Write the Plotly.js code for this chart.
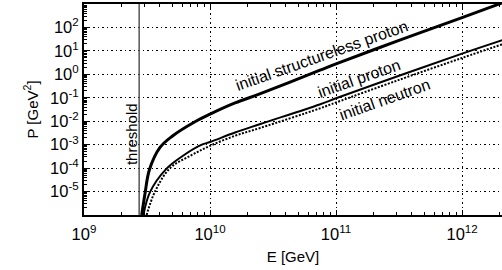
<!DOCTYPE html>
<html>
<head>
<meta charset="utf-8">
<script src="https://cdn.plot.ly/plotly-3.0.1.min.js"></script>
<style>html,body{margin:0;padding:0;overflow:hidden;background:#fff}#chart{width:502px;height:270px}</style>
</head>
<body>
<div id="chart"></div>
<script>
// Energy E [GeV] and P [GeV^2]
const structurelessE = [2.87e9, 3.05e9, 3.30e9, 4.01e9, 5.01e9, 7.60e9, 1.0e10, 1.58e10, 2.51e10, 7.46e10, 1.0e11, 3.16e11, 1.0e12, 2.14e12];
const structurelessP = [1e-6, 8.3e-6, 8.3e-5, 7.6e-4, 2.3e-3, 9.5e-3, 2.0e-2, 6.0e-2, 0.15, 1.5, 2.8, 28, 263, 1175];

const protonE = [2.96e9, 3.34e9, 4.48e9, 6.31e9, 8.61e9, 1.0e10, 1.58e10, 2.51e10, 7.41e10, 1.0e11, 3.16e11, 1.0e12, 2.14e12];
const protonP = [1e-6, 9.5e-6, 9.1e-5, 3.8e-4, 1.0e-3, 1.3e-3, 3.3e-3, 7.6e-3, 5.2e-2, 9.5e-2, 0.87, 7.6, 30];

const neutronE = [3.14e9, 3.66e9, 4.82e9, 7.08e9, 1.0e10, 1.58e10, 2.51e10, 7.41e10, 1.0e11, 3.16e11, 1.0e12, 2.14e12];
const neutronP = [1e-6, 1e-5, 1e-4, 3.5e-4, 8.9e-4, 2.4e-3, 5.2e-3, 3.5e-2, 6.3e-2, 0.58, 5.0, 20];

const thresholdE = 2.74e9;
const thresholdP = [1e-6, 1e3];

const xTickVals = [1e9, 1e10, 1e11, 1e12];
const xTickText = ['10<sup>9</sup>', '10<sup>10</sup>', '10<sup>11</sup>', '10<sup>12</sup>'];
const yTickVals = [1e-5, 1e-4, 1e-3, 1e-2, 1e-1, 1e0, 1e1, 1e2];
const yTickText = ['10<sup>-5</sup>', '10<sup>-4</sup>', '10<sup>-3</sup>', '10<sup>-2</sup>', '10<sup>-1</sup>', '10<sup>0</sup>', '10<sup>1</sup>', '10<sup>2</sup>'];

const curveLabels = ['initial structureless proton', 'initial proton', 'initial neutron'];

const FONT = 'Liberation Sans, Arial, sans-serif';

const traces = [
  {x: [thresholdE, thresholdE], y: thresholdP, mode: 'lines', line: {color: '#555555', width: 1.5}, hoverinfo: 'skip'},
  {x: structurelessE, y: structurelessP, mode: 'lines', line: {color: '#000', width: 3, shape: 'spline', smoothing: 1}, name: curveLabels[0]},
  {x: protonE, y: protonP, mode: 'lines', line: {color: '#000', width: 2, shape: 'spline', smoothing: 1}, name: curveLabels[1]},
  {x: neutronE, y: neutronP, mode: 'lines', line: {color: '#000', width: 2, dash: '2px,1.5px', shape: 'spline', smoothing: 1}, name: curveLabels[2]}
];

const axisCommon = {
  type: 'log',
  showline: true, linecolor: '#000', linewidth: 2,
  ticks: 'inside', ticklen: 5, tickwidth: 1, tickcolor: '#000',
  tickmode: 'array',
  showgrid: true, gridcolor: '#000', gridwidth: 1, griddash: '1.5px,3px',
  zeroline: false,
  tickfont: {family: FONT, size: 16.5, color: '#000'},
  minor: {ticks: 'inside', ticklen: 3, tickwidth: 1, tickcolor: '#000', dtick: 'D1', showgrid: false}
};

const layout = {
  width: 502, height: 270,
  margin: {l: 84, r: 0, t: 4, b: 55},
  paper_bgcolor: '#fff', plot_bgcolor: '#fff',
  showlegend: false,
  font: {family: FONT, color: '#000'},
  xaxis: Object.assign({}, axisCommon, {
    range: [9, 12.317], mirror: 'ticks',
    tickvals: xTickVals, ticktext: xTickText,
    ticklabelstandoff: 3,
    title: {text: 'E [GeV]', font: {family: FONT, size: 15, color: '#000'}, standoff: 10}
  }),
  yaxis: Object.assign({}, axisCommon, {
    range: [-6, 3], mirror: false,
    tickvals: yTickVals, ticktext: yTickText,
    title: {text: 'P [GeV<sup>2</sup>]', font: {family: FONT, size: 15, color: '#000'}, standoff: 8}
  }),
  annotations: [
    {x: 10.887, y: 0.80, xref: 'x', yref: 'y', text: curveLabels[0], showarrow: false, textangle: -19.5, font: {family: FONT, size: 16, color: '#000'}},
    {x: 11.18, y: -0.19, xref: 'x', yref: 'y', text: curveLabels[1], showarrow: false, textangle: -19.5, font: {family: FONT, size: 16, color: '#000'}},
    {x: 11.385, y: -1.06, xref: 'x', yref: 'y', text: curveLabels[2], showarrow: false, textangle: -19.5, font: {family: FONT, size: 16, color: '#000'}},
    {x: 9.373, y: -2.55, xref: 'x', yref: 'y', text: 'threshold', showarrow: false, textangle: -90, font: {family: FONT, size: 15, color: '#000'}}
  ]
};

Plotly.newPlot('chart', traces, layout, {staticPlot: true, displayModeBar: false});
</script>
</body>
</html>
